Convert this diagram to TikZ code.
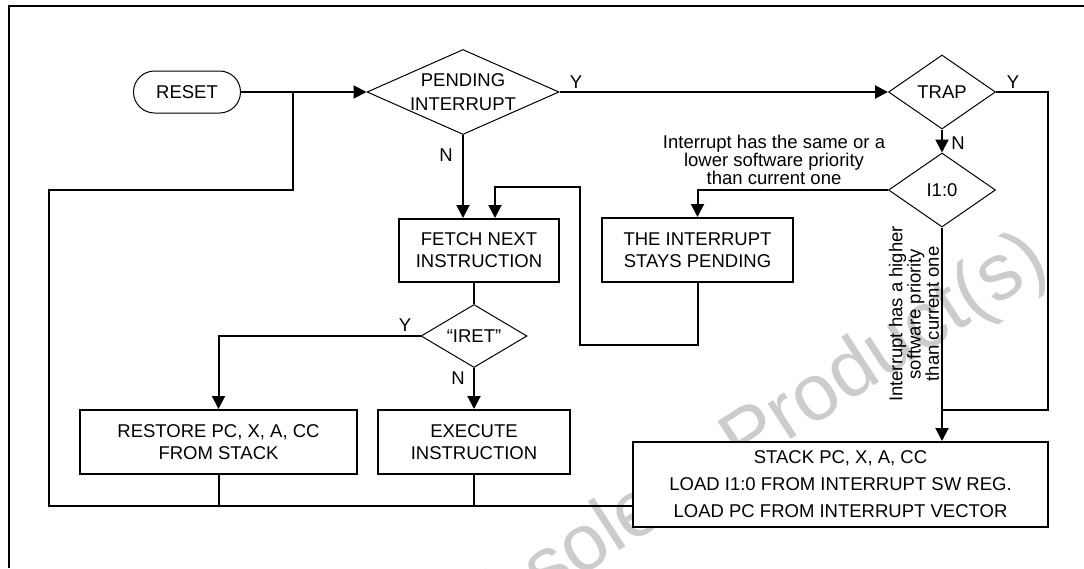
\documentclass[tikz,border=0pt]{standalone}
\usepackage{fontspec}
\setmainfont{Liberation Sans}
\usetikzlibrary{shapes.geometric,arrows.meta}

\begin{document}
\begin{tikzpicture}[x=1pt, y=-1pt, font=\fontsize{18.5}{22}\selectfont]

% Define styles
\tikzstyle{terminal} = [rectangle, rounded corners=21pt, draw=black, line width=1pt, fill=white, text centered, minimum width=107pt, minimum height=42pt]
\tikzstyle{decision} = [diamond, draw=black, line width=1pt, fill=white, text centered, align=center, inner sep=0pt]
\tikzstyle{process} = [rectangle, draw=black, line width=2pt, fill=white, text centered, align=center, inner sep=0pt]
\tikzstyle{link} = [line width=2pt]
\tikzstyle{flow} = [link, -{Triangle[length=13pt, width=13pt]}]
\tikzstyle{note} = [align=center, font=\fontsize{18.5}{16}\selectfont]

% Page and frame
\useasboundingbox (0,0) rectangle (1084,568);
\clip (0,0) rectangle (1084,568);

% Watermark
\node [rotate=33, anchor=base west, text=black!20, font=\fontsize{80}{80}\selectfont] (mark) at (452,660) {Obsolete Product(s)};

\draw [line width=2.5pt] (9,568) -- (9,6) -- (1084,6);

% Main steps
\node [terminal] (reset) at (187,92) {RESET};
\node [decision, aspect=2.26, minimum width=192pt, minimum height=85pt, font=\fontsize{18.5}{24}\selectfont] (pending) at (463,92) {PENDING\\INTERRUPT};
\node [decision, aspect=1.45, minimum width=107pt, minimum height=74pt] (trap) at (942,92) {TRAP};
\node [decision, aspect=1.45, minimum width=107pt, minimum height=74pt] (level) at (942,190) {I1:0};
\node [process, minimum width=160pt, minimum height=63pt] (fetch) at (479,250.5) {FETCH NEXT\\INSTRUCTION};
\node [process, minimum width=191pt, minimum height=64pt] (stays) at (697.5,250) {THE INTERRUPT\\STAYS PENDING};
\node [decision, aspect=1.7, minimum width=106pt, minimum height=63pt] (iret) at (474,336) {“IRET”};
\node [process, minimum width=277pt, minimum height=64pt] (restore) at (218.5,442) {RESTORE PC, X, A, CC\\FROM STACK};
\node [process, minimum width=192pt, minimum height=64pt] (execute) at (474,442) {EXECUTE\\INSTRUCTION};
\node [process, minimum width=415pt, minimum height=85pt, font=\fontsize{18.5}{27}\selectfont] (stackbox) at (840.5,484.5) {STACK PC, X, A, CC\\LOAD I1:0 FROM INTERRUPT SW REG.\\LOAD PC FROM INTERRUPT VECTOR};

% Corner points of the return paths
\coordinate (join) at (293,92);
\coordinate (loopleft) at (49,190);
\coordinate (loopbottom) at (49,506);
\coordinate (trapright) at (1048,410);
\coordinate (backtop) at (495,187);
\coordinate (backbottom) at (580,345);

% Connections
\draw [flow] (reset) -- (pending);
\draw [flow] (pending.south) -- (pending.south |- fetch.north);
\draw [flow] (pending) -- (trap);
\draw [flow] (trap) -- (level);
\draw [link] (trap.east) -| (trapright) -- (trapright -| level.south);
\draw [flow] (level.west) -| (stays.north);
\draw [flow] (level.south) -- (level.south |- stackbox.north);
\draw [flow] (stays.south) |- (backbottom) |- (backtop) -- (backtop |- fetch.north);
\draw [link] (fetch.south -| iret.north) -- (iret.north);
\draw [flow] (iret.west) -| (restore.north);
\draw [flow] (iret) -- (execute);
\draw [link] (restore) -- (restore |- loopbottom);
\draw [link] (execute) -- (execute |- loopbottom);
\draw [link] (stackbox.west |- loopbottom) -| (loopleft) -| (join);

% Branch labels
\node (pend_y) at (576,82) {Y};
\node (pend_n) at (446,155) {N};
\node (trap_y) at (1013,82) {Y};
\node (trap_n) at (958,143) {N};
\node (iret_y) at (405,325) {Y};
\node (iret_n) at (458,378) {N};

\node [note] (lower_note) at (774,160) {Interrupt has the same or a\\lower software priority\\than current one};
\node [note, rotate=90] (higher_note) at (914,314) {Interrupt has a higher\\software priority\\than current one};

\end{tikzpicture}
\end{document}
